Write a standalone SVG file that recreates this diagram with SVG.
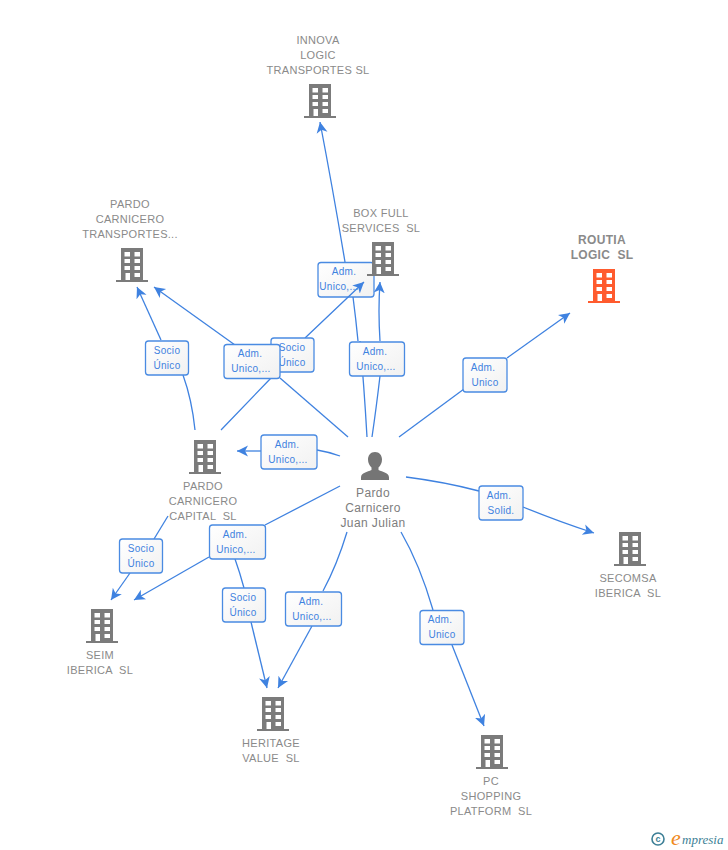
<svg xmlns="http://www.w3.org/2000/svg" width="728" height="850" viewBox="0 0 728 850">
<style>
.n{font:11px "Liberation Sans",Arial,sans-serif;fill:#8a8a8a;text-anchor:middle;white-space:pre;letter-spacing:.3px}
.nb{font-weight:bold;font-size:12px}
.p{font-size:12px;fill:#7d7d7d;letter-spacing:.4px}
.e{fill:none;stroke:#3f82e0;stroke-width:1.3}
.b{fill:url(#g);stroke:#4a8be2;stroke-width:1.3}
.t{font:10px "Liberation Sans",Arial,sans-serif;fill:#3f82e0;text-anchor:middle;letter-spacing:.3px}
</style>
<defs>
<linearGradient id="g" x1="0" y1="0" x2="1" y2="1"><stop offset="0" stop-color="#fff"/><stop offset="1" stop-color="#f1f1f1"/></linearGradient>
<marker id="a" markerUnits="userSpaceOnUse" markerWidth="14" markerHeight="14" refX="11" refY="6" orient="auto"><path d="M11,6 L0,0.500 L3,6 L0,11.500Z" fill="#3f82e0"/></marker>
<path id="bld" fill-rule="evenodd" d="M-11,0H11V32H16V34H-16V32H-11ZM-7.500,4V8.500H-2V4ZM2.500,4V8.500H8V4ZM-7.500,11V15H-2V11ZM2.500,11V15H8V11ZM-7.500,18V22H-2V18ZM2.500,18V22H8V18ZM-6.500,25V32H-2V25ZM2.500,25V29H8V25Z"/>
</defs>
<g id="label-innova"><rect class="b" x="318" y="262.500" width="56" height="34.500" rx="3"/><text class="t" x="344" y="275">Adm.</text><text class="t" x="339" y="290">Unico,...</text></g>
<g id="connectors">
<path class="e" marker-end="url(#a)" d="M345,262Q333,190 320,122"/>
<path class="e" d="M367,437Q364,385 360,341M358,341Q356,320 353,297"/>
<path class="e" marker-end="url(#a)" d="M221,430L271,378M305,338L364,282"/>
<path class="e" d="M372,437Q376,410 380,376"/>
<path class="e" marker-end="url(#a)" d="M380,341Q378,310 380,282"/>
<path class="e" marker-end="url(#a)" d="M235,345L154,287"/>
<path class="e" d="M348,437L280,378"/>
<path class="e" marker-end="url(#a)" d="M161,340L137,287"/>
<path class="e" d="M195,430Q192,400 183,375"/>
<path class="e" marker-end="url(#a)" d="M261,451L237,451"/>
<path class="e" d="M340,456Q329,452 317,450"/>
<path class="e" d="M399,437L464,389"/>
<path class="e" marker-end="url(#a)" d="M507,358L570,313"/>
<path class="e" d="M406,477Q445,482 479,491"/>
<path class="e" marker-end="url(#a)" d="M523,507Q560,522 594,533"/>
<path class="e" d="M401,532Q420,565 433,610"/>
<path class="e" marker-end="url(#a)" d="M452,645L484,726"/>
<path class="e" d="M347,532Q337,565 323,591"/>
<path class="e" marker-end="url(#a)" d="M312,626L278,688"/>
<path class="e" d="M340,486L265,525"/>
<path class="e" marker-end="url(#a)" d="M209,557L134,600"/>
<path class="e" d="M168,516L154,539"/>
<path class="e" marker-end="url(#a)" d="M130,573L111,600"/>
<path class="e" d="M235,559Q240,573 244,588"/>
<path class="e" marker-end="url(#a)" d="M251,622L267,688"/>
</g>
<g id="innova" fill="#7b7b7b"><use href="#bld" x="320" y="84"/><text class="n"><tspan x="318" y="44">INNOVA</tspan><tspan x="318" y="59">LOGIC</tspan><tspan x="318" y="74">TRANSPORTES SL</tspan></text></g>
<g id="boxfull" fill="#7b7b7b"><use href="#bld" x="383" y="242"/><text class="n"><tspan x="381" y="217">BOX FULL</tspan><tspan x="381" y="232">SERVICES  SL</tspan></text></g>
<g id="transportes" fill="#7b7b7b"><use href="#bld" x="132" y="248"/><text class="n"><tspan x="130" y="208">PARDO</tspan><tspan x="130" y="223">CARNICERO</tspan><tspan x="130" y="238">TRANSPORTES...</tspan></text></g>
<g id="routia" fill="#ff5b2e"><use href="#bld" x="604" y="269"/><text class="n nb"><tspan x="602" y="244">ROUTIA</tspan><tspan x="602" y="259">LOGIC  SL</tspan></text></g>
<g id="capital" fill="#7b7b7b"><use href="#bld" x="205" y="440"/><text class="n"><tspan x="203" y="490">PARDO</tspan><tspan x="203" y="505">CARNICERO</tspan><tspan x="203" y="520">CAPITAL  SL</tspan></text></g>
<g id="secomsa" fill="#7b7b7b"><use href="#bld" x="630" y="532"/><text class="n"><tspan x="628" y="582">SECOMSA</tspan><tspan x="628" y="597">IBERICA  SL</tspan></text></g>
<g id="seim" fill="#7b7b7b"><use href="#bld" x="102" y="609"/><text class="n"><tspan x="100" y="659">SEIM</tspan><tspan x="100" y="674">IBERICA  SL</tspan></text></g>
<g id="heritage" fill="#7b7b7b"><use href="#bld" x="273" y="697"/><text class="n"><tspan x="271" y="747">HERITAGE</tspan><tspan x="271" y="762">VALUE  SL</tspan></text></g>
<g id="pc" fill="#7b7b7b"><use href="#bld" x="492" y="735"/><text class="n"><tspan x="491" y="785">PC</tspan><tspan x="491" y="800">SHOPPING</tspan><tspan x="491" y="815">PLATFORM  SL</tspan></text></g>
<g id="person" fill="#757575"><path d="M375,452c4.500,0 7,3.500 7,7.500c0,3.500 -1.500,6 -3.500,8v2.500c4,2 10.500,2.500 10.500,7.500v2.500h-28v-2.500c0,-5 6.500,-5.500 10.500,-7.500v-2.500c-2,-2 -3.500,-4.500 -3.500,-8c0,-4 2.500,-7.500 7,-7.500Z"/><text class="n p"><tspan x="373" y="497">Pardo</tspan><tspan x="373" y="512">Carnicero</tspan><tspan x="373" y="527">Juan Julian</tspan></text></g>
<g id="label-socio-box"><rect class="b" x="271" y="338" width="43" height="34" rx="3"/><text class="t" x="292" y="351">Socio</text><text class="t" x="292" y="366">Único</text></g>
<g id="label-adm-transportes"><rect class="b" x="224" y="344.500" width="56" height="34" rx="3"/><text class="t" x="250" y="357">Adm.</text><text class="t" x="251" y="372">Unico,...</text></g>
<g id="label-socio-transportes"><rect class="b" x="145.500" y="341" width="43" height="34" rx="3"/><text class="t" x="167" y="354">Socio</text><text class="t" x="167" y="369">Único</text></g>
<g id="label-adm-box"><rect class="b" x="349.500" y="342" width="55" height="34" rx="3"/><text class="t" x="375" y="355">Adm.</text><text class="t" x="376" y="370">Unico,...</text></g>
<g id="label-routia"><rect class="b" x="463" y="358" width="44" height="34" rx="3"/><text class="t" x="483" y="371">Adm.</text><text class="t" x="485" y="386">Unico</text></g>
<g id="label-capital"><rect class="b" x="261" y="435" width="56" height="34" rx="3"/><text class="t" x="287" y="448">Adm.</text><text class="t" x="288" y="463">Unico,...</text></g>
<g id="label-secomsa"><rect class="b" x="479" y="486" width="44" height="34" rx="3"/><text class="t" x="499" y="499">Adm.</text><text class="t" x="501" y="514">Solid.</text></g>
<g id="label-socio-seim"><rect class="b" x="119.500" y="539" width="43" height="34" rx="3"/><text class="t" x="141" y="552">Socio</text><text class="t" x="141" y="567">Único</text></g>
<g id="label-adm-seim"><rect class="b" x="209.500" y="525" width="56" height="34" rx="3"/><text class="t" x="235" y="538">Adm.</text><text class="t" x="236" y="553">Unico,...</text></g>
<g id="label-socio-heritage"><rect class="b" x="222.500" y="588" width="43" height="34" rx="3"/><text class="t" x="243" y="601">Socio</text><text class="t" x="243" y="616">Único</text></g>
<g id="label-adm-heritage"><rect class="b" x="285.500" y="592" width="56" height="34" rx="3"/><text class="t" x="311" y="605">Adm.</text><text class="t" x="312" y="620">Unico,...</text></g>
<g id="label-pc"><rect class="b" x="420" y="610.500" width="44" height="34" rx="3"/><text class="t" x="440" y="623">Adm.</text><text class="t" x="442" y="638">Unico</text></g>
<g id="logo"><circle cx="658" cy="839" r="6" fill="none" stroke="#3d7f96" stroke-width="1.600"/><text x="658" y="842" font-family="Liberation Sans,sans-serif" font-size="9" font-weight="bold" fill="#3d7f96" text-anchor="middle">c</text><text x="671" y="845" font-family="Liberation Serif,serif" font-style="italic" font-size="22" fill="#f08a1d">e</text><text x="682" y="844" font-family="Liberation Serif,serif" font-style="italic" font-size="13" fill="#3d7f96">mpresia</text></g>
</svg>
